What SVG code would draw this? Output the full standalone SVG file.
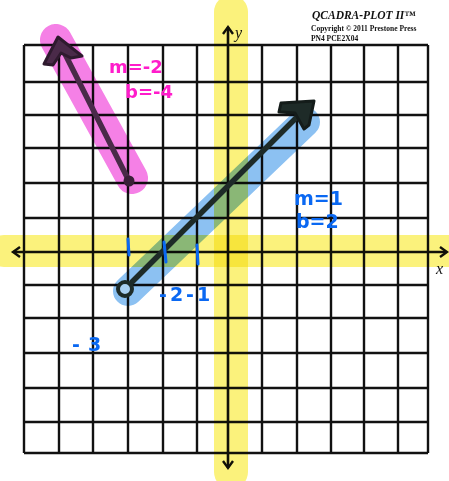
<svg xmlns="http://www.w3.org/2000/svg" width="449" height="481" viewBox="0 0 449 481">
<style>
.grid line{stroke:#111;stroke-width:2.4}
.hl{fill:none;stroke-linecap:round;mix-blend-mode:multiply}
.pen{fill:none;stroke-linecap:round;stroke-linejoin:round}
.pink{fill:#ff1ccb;font-family:"DejaVu Sans",sans-serif;font-size:18px;font-weight:bold}
.blue{fill:#0a68f2;font-family:"DejaVu Sans",sans-serif;font-size:19px;font-weight:bold}
.tick{stroke:#0a68f2;stroke-width:3;stroke-linecap:round}
.hdr{font-family:"Liberation Serif",serif;font-weight:bold;fill:#111}
</style>
<rect width="449" height="481" fill="#fff"/>
<g id="grid" class="grid">
<line x1="24" y1="45" x2="24" y2="453"/><line x1="59" y1="45" x2="59" y2="453"/><line x1="93" y1="45" x2="93" y2="453"/><line x1="128" y1="45" x2="128" y2="453"/><line x1="163" y1="45" x2="163" y2="453"/><line x1="197" y1="45" x2="197" y2="453"/><line x1="262" y1="45" x2="262" y2="453"/><line x1="297" y1="45" x2="297" y2="453"/><line x1="331" y1="45" x2="331" y2="453"/><line x1="364" y1="45" x2="364" y2="453"/><line x1="398" y1="45" x2="398" y2="453"/><line x1="428" y1="45" x2="428" y2="453"/>
<line x1="24" y1="45" x2="428" y2="45"/><line x1="24" y1="82" x2="428" y2="82"/><line x1="24" y1="115" x2="428" y2="115"/><line x1="24" y1="148" x2="428" y2="148"/><line x1="24" y1="183" x2="428" y2="183"/><line x1="24" y1="218" x2="428" y2="218"/><line x1="24" y1="285" x2="428" y2="285"/><line x1="24" y1="318" x2="428" y2="318"/><line x1="24" y1="353" x2="428" y2="353"/><line x1="24" y1="388" x2="428" y2="388"/><line x1="24" y1="422" x2="428" y2="422"/><line x1="24" y1="453" x2="428" y2="453"/>
</g>
<g id="axes">
<line x1="14" y1="252" x2="446" y2="252" stroke="#111" stroke-width="2.6"/>
<line x1="228" y1="27" x2="228" y2="468" stroke="#111" stroke-width="2.6"/>
<path d="M20 247 L13 252 L20 257 M440 247 L447 252 L440 257 M223 34 L228 27 L233 34 M223 461 L228 468 L233 461" fill="none" stroke="#111" stroke-width="2.4"/>
<text x="235" y="38" font-family="Liberation Serif,serif" font-style="italic" font-size="16" fill="#111">y</text>
<text x="436" y="274" font-family="Liberation Serif,serif" font-style="italic" font-size="16" fill="#111">x</text>
</g>
<g id="header">
<text class="hdr" x="312" y="19" font-size="11.5" font-style="italic">QCADRA-PLOT II™</text>
<text class="hdr" x="311" y="31" font-size="7.5" font-family="Liberation Sans,sans-serif">Copyright © 2011 Prestone Press</text>
<text class="hdr" x="311" y="41" font-size="7.5" font-family="Liberation Sans,sans-serif">PN4 PCE2X04</text>
</g>
<g id="highlights">
<line class="hl" x1="4" y1="251" x2="449" y2="251" stroke="#fbf27c" stroke-width="32"/>
<line class="hl" x1="231" y1="12" x2="231" y2="472" stroke="#fbf27c" stroke-width="34"/>
<line class="hl" x1="56" y1="40" x2="132" y2="178" stroke="#f580e6" stroke-width="32"/>
<line class="hl" x1="128" y1="291" x2="305" y2="122" stroke="#8cc1f2" stroke-width="30"/>
</g>
<g id="connectors">
<g id="line-m-2">
<line class="pen" x1="129" y1="181" x2="64" y2="52" stroke="#4a2a49" stroke-width="5.5"/>
<path d="M58 37 L44 64 L53 65 L61 53 L71 58 L82 56 Z" fill="#4a2a49" stroke="#2e1a2e" stroke-width="3" stroke-linejoin="round"/>
<circle cx="129" cy="181" r="5.5" fill="#3a1f38"/>
</g>
<g id="line-m1">
<line class="pen" x1="132" y1="282" x2="302" y2="112" stroke="#1e2b28" stroke-width="5.5"/>
<path d="M314 101 L281 103 L279 112 L295 113 L304 129 L309 125 Z" fill="#1e2b28" stroke="#141c1a" stroke-width="3" stroke-linejoin="round"/>
<circle cx="125" cy="289" r="7" fill="#a9d0f2" stroke="#1e2b28" stroke-width="4"/>
</g>
</g>
<g id="labels">
<text class="pink" x="109" y="73">m=-2</text>
<text class="pink" x="125" y="98">b=-4</text>
<text class="blue" x="294" y="205">m=1</text>
<text class="blue" x="296" y="228">b=2</text>
<line class="tick" x1="128" y1="239" x2="129" y2="255"/>
<line class="tick" x1="164" y1="242" x2="166" y2="262"/>
<line class="tick" x1="197" y1="245" x2="198" y2="264"/>
<text class="blue" x="159" y="301" letter-spacing="3">-2-1</text>
<text class="blue" x="72" y="351" font-size="22" letter-spacing="8">-3</text>
</g>
</svg>
